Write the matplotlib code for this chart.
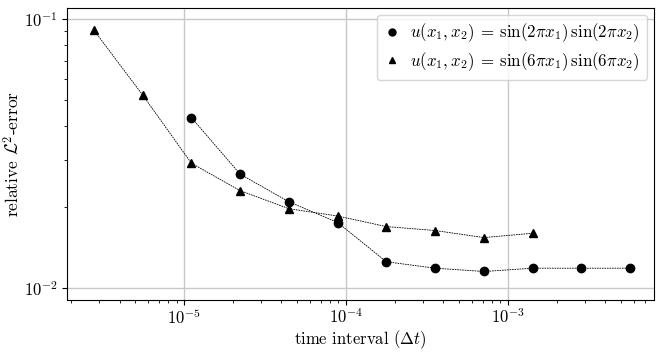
import matplotlib

matplotlib.use("Agg")
import matplotlib.pyplot as plt
from matplotlib.lines import Line2D

plt.rcParams["mathtext.fontset"] = "cm"
plt.rcParams["font.family"] = "serif"
plt.rcParams["font.serif"] = ["cmr10", "DejaVu Serif"]
plt.rcParams["axes.formatter.use_mathtext"] = True

# time steps (each halving of dt)
dt_sin2 = [1.111e-5, 2.222e-5, 4.444e-5, 8.889e-5, 1.778e-4,
           3.556e-4, 7.111e-4, 1.422e-3, 2.844e-3, 5.689e-3]
err_sin2 = [0.0430, 0.0265, 0.0209, 0.0175, 0.0125,
            0.01183, 0.0115, 0.01183, 0.01183, 0.01183]

dt_sin6 = [2.778e-6, 5.556e-6, 1.111e-5, 2.222e-5, 4.444e-5,
           8.889e-5, 1.778e-4, 3.556e-4, 7.111e-4, 1.422e-3]
err_sin6 = [0.0910, 0.0522, 0.0291, 0.0230, 0.0197,
            0.0185, 0.0169, 0.01634, 0.01538, 0.01596]

labels = [r"$u(x_1, x_2) \:=\: \sin(2\pi x_1)\,\sin(2\pi x_2)$",
          r"$u(x_1, x_2) \:=\: \sin(6\pi x_1)\,\sin(6\pi x_2)$"]

fig = plt.figure(figsize=(6.65, 3.54), dpi=100)
ax = fig.add_axes([0.101, 0.153, 0.882, 0.824])

ax.plot(dt_sin2, err_sin2, color="black", linestyle=(0, (2, 1)), linewidth=0.6,
        marker="o", markersize=6)
ax.plot(dt_sin6, err_sin6, color="black", linestyle=(0, (2, 1)), linewidth=0.6,
        marker="^", markersize=6)

ax.set_xscale("log")
ax.set_yscale("log")
ax.set_xlim(1.9e-6, 7.96e-3)
ax.set_ylim(0.00902, 0.1099)
ax.grid(True, which="major", color="#c8c8c8", linewidth=1)
ax.set_axisbelow(True)
ax.tick_params(labelsize=12)
ax.tick_params(axis="x", pad=2)

ax.set_xlabel(r"time interval $(\Delta t)$", fontsize=12, labelpad=1)
ax.set_ylabel(r"relative $\mathcal{L}^2$-error", fontsize=12.5, labelpad=1)

handles = [Line2D([], [], color="black", linestyle="none", marker="o", markersize=5),
           Line2D([], [], color="black", linestyle="none", marker="^", markersize=5)]
ax.legend(handles, labels, loc="upper right", fontsize=12.2, handlelength=1.0,
          handletextpad=0.6, borderaxespad=0.4, labelspacing=0.35)

fig.savefig("out.png", dpi=100)
